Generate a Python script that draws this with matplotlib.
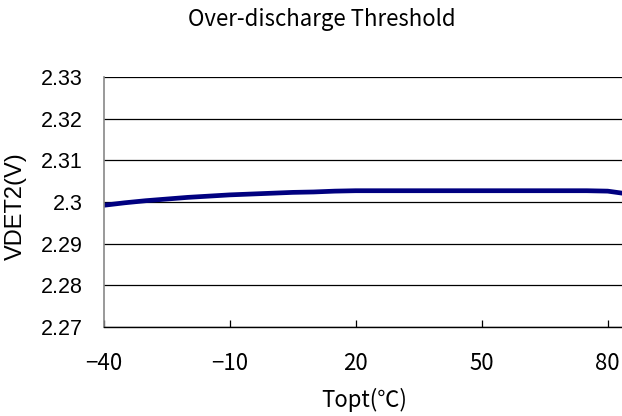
import numpy as np
import matplotlib.pyplot as plt

plt.rcParams['font.family'] = ['Noto Sans CJK JP', 'DejaVu Sans']

temp = [-40, -35, -30, -25, -20, -15, -10, -5, 0, 5, 10, 15, 20, 25, 30, 35,
        40, 45, 50, 55, 60, 65, 70, 75, 80, 85]
vdet2 = [2.2992, 2.2998, 2.3003, 2.3007, 2.3011, 2.3014, 2.3017, 2.3019, 2.3021,
         2.3023, 2.3024, 2.3026, 2.3027, 2.3027, 2.3027, 2.3027, 2.3027, 2.3027,
         2.3027, 2.3027, 2.3027, 2.3027, 2.3027, 2.3027, 2.3026, 2.3019]
xticks = [-40, -10, 20, 50, 80]
yticks = [2.27, 2.28, 2.29, 2.3, 2.31, 2.32, 2.33]
ylabels = ['2.27', '2.28', '2.29', '2.3', '2.31', '2.32', '2.33']

fig = plt.figure(figsize=(6.22, 4.16), dpi=100)
ax = fig.add_axes([0.1666, 0.214, 0.8334, 0.601])

ax.plot(temp, vdet2, color="#000080", linewidth=3.4, solid_capstyle='butt')

ax.set_xlim(-40, 83.4)
ax.set_ylim(2.27, 2.33)
ax.set_xticks(xticks)
ax.set_yticks(yticks)
ax.set_yticklabels(ylabels, family='Liberation Sans')
ax.grid(True, axis='y', color='black', linewidth=0.9)
ax.tick_params(axis='x', direction='in', length=5, width=0.9, labelsize=16, pad=18)
ax.tick_params(axis='y', length=0, labelsize=15.5, pad=15)

for s in ['top', 'right']:
    ax.spines[s].set_visible(False)
ax.spines['left'].set_color('#888888')
ax.spines['left'].set_linewidth(1.2)
ax.spines['bottom'].set_linewidth(1.0)

fig.text(364/622, 1-400/416, "Topt(℃)", ha='center', va='center', fontsize=16)
fig.text(16/622, 1-206/416, "VDET2(V)", rotation=90, ha='center', va='center',
         fontsize=17, family='Liberation Sans')
fig.text(0.517, 0.954, "Over-discharge Threshold", ha='center', va='center', fontsize=16)

plt.savefig("out.png", dpi=100)
